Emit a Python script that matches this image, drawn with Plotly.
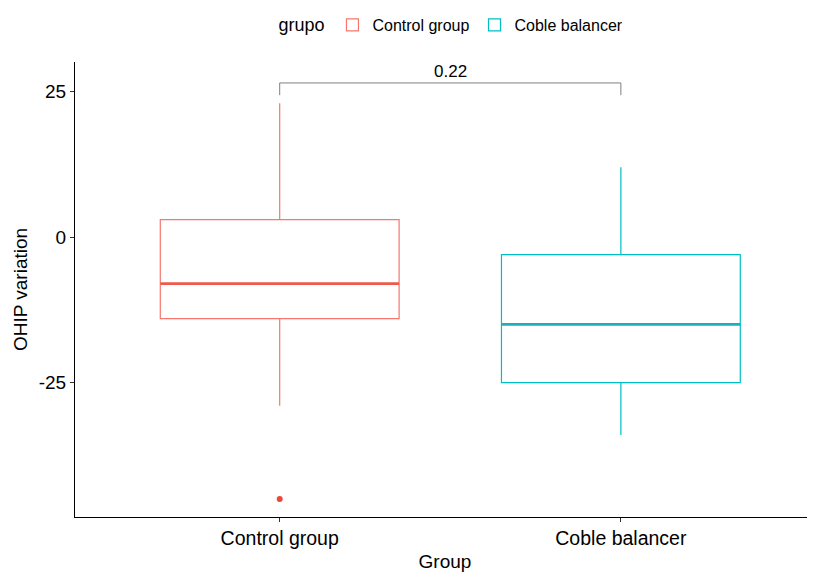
import plotly.graph_objects as go

groups = ["Control group", "Coble balancer"]
colors = ["#F8766D", "#00BFC4"]
median_colors = ["#EE5A4C", "#1FAFBB"]
upper_whisker = [23, 12]
q3 = [3, -3]
medians = [-8, -15]
q1 = [-14, -25]
lower_whisker = [-29, -34]
outliers = [[-45], []]
p_label = "0.22"

box_w = 0.7
fig = go.Figure()
for i, g in enumerate(groups):
    fig.add_trace(go.Box(
        x=[g], q1=[q1[i]], median=[medians[i]], q3=[q3[i]],
        lowerfence=[lower_whisker[i]], upperfence=[upper_whisker[i]],
        name=g, legendgroup=g, width=box_w,
        line=dict(color=colors[i], width=1.2), fillcolor="rgba(255,255,255,0)",
        boxpoints=False, whiskerwidth=0,
    ))
    if outliers[i]:
        fig.add_trace(go.Scatter(
            x=[g] * len(outliers[i]), y=outliers[i], mode="markers",
            marker=dict(color="#E8493A", size=6), showlegend=False, legendgroup=g,
        ))
    fig.add_shape(type="line", x0=i - box_w / 2, x1=i + box_w / 2,
                  y0=medians[i], y1=medians[i], xref="x", yref="y",
                  line=dict(color=median_colors[i], width=2.8), layer="above")

# significance bracket
top = max(upper_whisker)
y_low = top + 1.4
y_high = top + 3.5
fig.add_shape(type="path", xref="x", yref="y",
              path=f"M 0 {y_low} L 0 {y_high} L 1 {y_high} L 1 {y_low}",
              line=dict(color="#7f7f7f", width=1))
fig.add_annotation(x=0.5, y=y_high, xref="x", yref="y", text=p_label,
                   showarrow=False, yanchor="bottom", yshift=0,
                   font=dict(size=17, color="black"))

fig.update_layout(
    width=815, height=574,
    paper_bgcolor="white", plot_bgcolor="white",
    margin=dict(l=67, r=8, t=54, b=65, autoexpand=False),
    font=dict(family="Liberation Sans, Arial, sans-serif", color="black"),
    showlegend=True,
    legend=dict(orientation="h", x=0.51, xanchor="center", y=1.0, yref="container",
                yanchor="top", title=dict(text="grupo", font=dict(size=18)),
                font=dict(size=16)),
    xaxis=dict(type="category", range=[-0.6, 1.569], showline=True, linecolor="black",
               linewidth=1, ticks="outside", ticklen=4, tickcolor="#333",
               tickfont=dict(size=19.5, color="black"), showgrid=False, zeroline=False,
               automargin=False,
               title=dict(text="Group", font=dict(size=19), standoff=6)),
    yaxis=dict(range=[-48.1, 30.1], tickvals=[-25, 0, 25], ticktext=["-25", "0", "25"],
               showline=True, linecolor="black", linewidth=1, ticks="outside",
               ticklen=4, tickcolor="#333", tickfont=dict(size=19, color="black"),
               showgrid=False, zeroline=False, automargin=False,
               title=dict(text="OHIP variation", font=dict(size=19), standoff=6)),
)
fig.write_html("out.html")
